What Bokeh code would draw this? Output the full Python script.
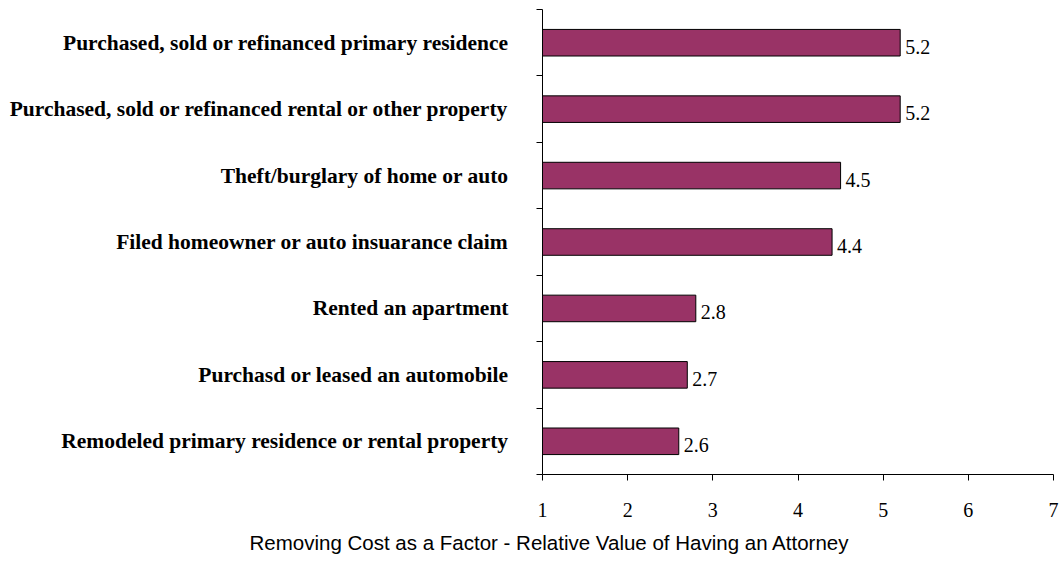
from bokeh.plotting import figure
from bokeh.models import Range1d, FixedTicker, ColumnDataSource, Title
from bokeh.embed import file_html
from bokeh.resources import INLINE

categories = [
    "Purchased, sold or refinanced primary residence",
    "Purchased, sold or refinanced rental or other property",
    "Theft/burglary of home or auto",
    "Filed homeowner or auto insuarance claim",
    "Rented an apartment",
    "Purchasd or leased an automobile",
    "Remodeled primary residence or rental property",
]
values = [5.2, 5.2, 4.5, 4.4, 2.8, 2.7, 2.6]
value_labels = ["5.2", "5.2", "4.5", "4.4", "2.8", "2.7", "2.6"]
x_ticks = [1, 2, 3, 4, 5, 6, 7]
axis_title = "Removing Cost as a Factor - Relative Value of Having an Attorney"

n = len(categories)
ypos = [i + 1 for i in range(n)]

src = ColumnDataSource(dict(y=ypos, right=values, label=value_labels))

p = figure(
    width=1061, height=562,
    x_range=Range1d(1, 7),
    y_range=Range1d(n + 0.5, 0.5),
    output_backend="svg", toolbar_location=None,
    min_border_left=542, min_border_right=8,
    min_border_top=9, min_border_bottom=88,
)
p.outline_line_color = None
p.xgrid.visible = False
p.ygrid.visible = False
p.background_fill_color = "white"
p.border_fill_color = "white"

p.hbar(y="y", left=1, right="right", height=0.4, source=src,
       fill_color="#993366", line_color="black", line_width=1)

p.text(x="right", y="y", text="label", source=src,
       x_offset=5, y_offset=4, text_baseline="alphabetic", text_align="left",
       text_font="Liberation Serif", text_font_size="20px", text_color="black")

# x axis
xa = p.xaxis[0]
xa.ticker = FixedTicker(ticks=x_ticks)
xa.major_tick_out = 6
xa.major_tick_in = 0
xa.minor_tick_out = 0
xa.minor_tick_in = 0
xa.axis_line_color = "black"
xa.major_tick_line_color = "black"
xa.major_label_text_font = "Liberation Serif"
xa.major_label_text_font_size = "20px"
xa.major_label_text_color = "black"
xa.major_label_standoff = 22

# y axis
ya = p.yaxis[0]
ya.ticker = FixedTicker(ticks=ypos, minor_ticks=[i + 0.5 for i in range(n + 1)])
ya.major_label_overrides = {y: c for y, c in zip(ypos, categories)}
ya.major_tick_out = 0
ya.major_tick_in = 0
ya.minor_tick_out = 6
ya.minor_tick_in = 0
ya.minor_tick_line_color = "black"
ya.axis_line_color = "black"
ya.major_label_text_font = "Liberation Serif"
ya.major_label_text_font_style = "bold"
ya.major_label_text_font_size = "21.5px"
ya.major_label_text_color = "black"
ya.major_label_standoff = 28

p.add_layout(Title(text=axis_title, align="left", offset=-293, standoff=18,
                   text_font="Liberation Sans", text_font_size="20.5px",
                   text_font_style="normal", text_color="black"), "below")

open("out.html", "w").write(file_html(p, INLINE))
